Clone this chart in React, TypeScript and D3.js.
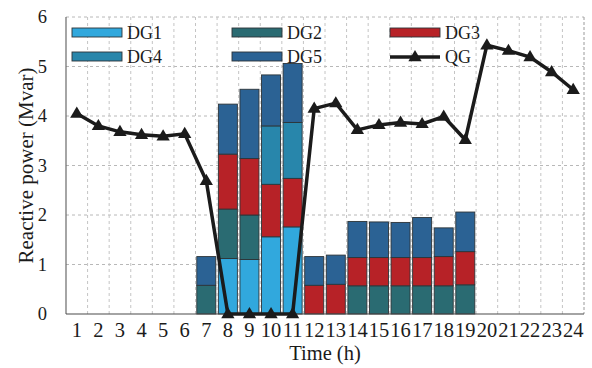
import React from 'react';
import * as d3 from 'd3';

const hours = d3.range(1, 25).map(String);

// DG outputs, only hours 7..19 are non-zero
const dg1 = [0, 0, 0, 0, 0, 0, 0, 1.12, 1.10, 1.56, 1.76, 0, 0, 0, 0, 0, 0, 0, 0, 0, 0, 0, 0, 0];
const dg2 = [0, 0, 0, 0, 0, 0, 0.58, 1.00, 0.90, 0, 0, 0, 0, 0.57, 0.57, 0.57, 0.57, 0.57, 0.59, 0, 0, 0, 0, 0];
const dg3 = [0, 0, 0, 0, 0, 0, 0, 1.11, 1.14, 1.06, 0.98, 0.58, 0.60, 0.57, 0.57, 0.57, 0.57, 0.59, 0.67, 0, 0, 0, 0, 0];
const dg4 = [0, 0, 0, 0, 0, 0, 0, 0, 0, 1.18, 1.13, 0, 0, 0, 0, 0, 0, 0, 0, 0, 0, 0, 0, 0];
const dg5 = [0, 0, 0, 0, 0, 0, 0.58, 1.01, 1.40, 1.03, 1.19, 0.58, 0.59, 0.73, 0.72, 0.71, 0.81, 0.58, 0.80, 0, 0, 0, 0, 0];
const qg = [4.05, 3.80, 3.68, 3.62, 3.59, 3.64, 2.69, 0, 0, 0, 0, 4.15, 4.26, 3.72, 3.82, 3.87, 3.84, 3.99, 3.52, 5.43, 5.32, 5.19, 4.89, 4.53];

const seriesNames = ['DG1', 'DG2', 'DG3', 'DG4', 'DG5'];
const seriesValues = [dg1, dg2, dg3, dg4, dg5];
const seriesColors = ['#31a8dd', '#2a6b72', '#b72227', '#2886ab', '#2b6294'];
const yTicks = [0, 1, 2, 3, 4, 5, 6];

const W = 592, H = 368;
const left = 66, right = 584, top = 17, bottom = 314;
const font = '"Liberation Serif", "Times New Roman", serif';

function Triangle({x, y, s = 7}) {
    return <path d={`M${x},${y - s} L${x + s * 0.95},${y + s * 0.6} L${x - s * 0.95},${y + s * 0.6} Z`} fill="#1b1b1b" />;
}

export default function App() {
    const x = d3.scaleBand().domain(hours).range([left, right]).paddingInner(0.12).paddingOuter(0.06);
    const xb = d3.scaleBand().domain(hours).range([left, right]);
    const y = d3.scaleLinear().domain([0, 6]).range([bottom, top]);

    const table = hours.map((h, i) => {
        const row: any = {hour: h};
        seriesNames.forEach((n, k) => { row[n] = seriesValues[k][i]; });
        return row;
    });
    const stacked = d3.stack().keys(seriesNames)(table);

    const line = d3.line<number>()
        .x((_, i) => (x(hours[i]) as number) + x.bandwidth() / 2)
        .y((v) => y(v));

    const legend = [
        {name: 'DG1', col: 0, row: 0}, {name: 'DG2', col: 1, row: 0}, {name: 'DG3', col: 2, row: 0},
        {name: 'DG4', col: 0, row: 1}, {name: 'DG5', col: 1, row: 1}, {name: 'QG', col: 2, row: 1},
    ];
    const legendX = [72, 232, 390];
    const legendY = [33, 57];

    return (
        <svg width={W} height={H} style={{position: 'absolute', left: 0, top: 0}} xmlns="http://www.w3.org/2000/svg">
            <rect x={0} y={0} width={W} height={H} fill="#fff" />
            {/* grid */}
            {yTicks.slice(1).map((t) =>
                <line key={`gy${t}`} x1={left} x2={right} y1={y(t)} y2={y(t)} stroke="#b8b8b8" strokeDasharray="3,3" strokeWidth={1} />
            )}
            {hours.slice(1).map((h) =>
                <line key={`gx${h}`} x1={xb(h)} x2={xb(h)} y1={top} y2={bottom} stroke="#c4c4c4" strokeDasharray="3,3" strokeWidth={1} />
            )}
            <line x1={right} x2={right} y1={top} y2={bottom} stroke="#9a9a9a" strokeDasharray="3,2" />
            {/* bars */}
            {stacked.map((s, k) =>
                <g key={`s${k}`}>
                    {s.map((d, i) => d[1] - d[0] > 0 ?
                        <rect key={`b${k}_${i}`} x={x(hours[i])} y={y(d[1])} width={x.bandwidth()} height={y(d[0]) - y(d[1])}
                            fill={seriesColors[k]} stroke="#2d3438" strokeWidth={0.9} /> : null)}
                </g>
            )}
            {/* frame */}
            <line x1={left} x2={left} y1={top} y2={bottom} stroke="#6a6a6a" strokeWidth={1.2} />
            <line x1={left} x2={right} y1={bottom} y2={bottom} stroke="#4a4a4a" strokeWidth={1.2} />
            {/* QG */}
            <path d={line(qg) as string} fill="none" stroke="#1b1b1b" strokeWidth={3.5} strokeLinejoin="miter" />
            {qg.map((v, i) => <Triangle key={`m${i}`} x={(x(hours[i]) as number) + x.bandwidth() / 2} y={y(v)} />)}
            {/* legend */}
            {legend.map((l) => {
                const lx = legendX[l.col], ly = legendY[l.row];
                const k = seriesNames.indexOf(l.name);
                return (
                    <g key={l.name}>
                        {k >= 0 ?
                            <rect x={lx} y={ly - 5} width={50} height={9} fill={seriesColors[k]} stroke="#2d3438" strokeWidth={0.9} /> :
                            <g>
                                <line x1={lx} x2={lx + 50} y1={ly} y2={ly} stroke="#1b1b1b" strokeWidth={3.5} />
                                <Triangle x={lx + 25} y={ly} />
                            </g>}
                        <text x={lx + 55} y={ly + 6} fontFamily={font} fontSize={18} fill="#1b1b1b">{l.name}</text>
                    </g>
                );
            })}
            {/* axes labels */}
            {yTicks.map((t) =>
                <text key={`yt${t}`} x={47} y={y(t) + 6} textAnchor="end" fontFamily={font} fontSize={18.5} fill="#1b1b1b">{t}</text>
            )}
            {hours.map((h) =>
                <text key={`xt${h}`} x={(xb(h) as number) + xb.bandwidth() / 2} y={337} textAnchor="middle" fontFamily={font} fontSize={20.5} fill="#1b1b1b">{h}</text>
            )}
            <text x={(left + right) / 2} y={360} textAnchor="middle" fontFamily={font} fontSize={20.5} fill="#1b1b1b">Time (h)</text>
            <text transform={`translate(33, ${(top + bottom) / 2}) rotate(-90)`} textAnchor="middle" fontFamily={font} fontSize={21} fill="#1b1b1b">Reactive power (Mvar)</text>
        </svg>
    );
}
